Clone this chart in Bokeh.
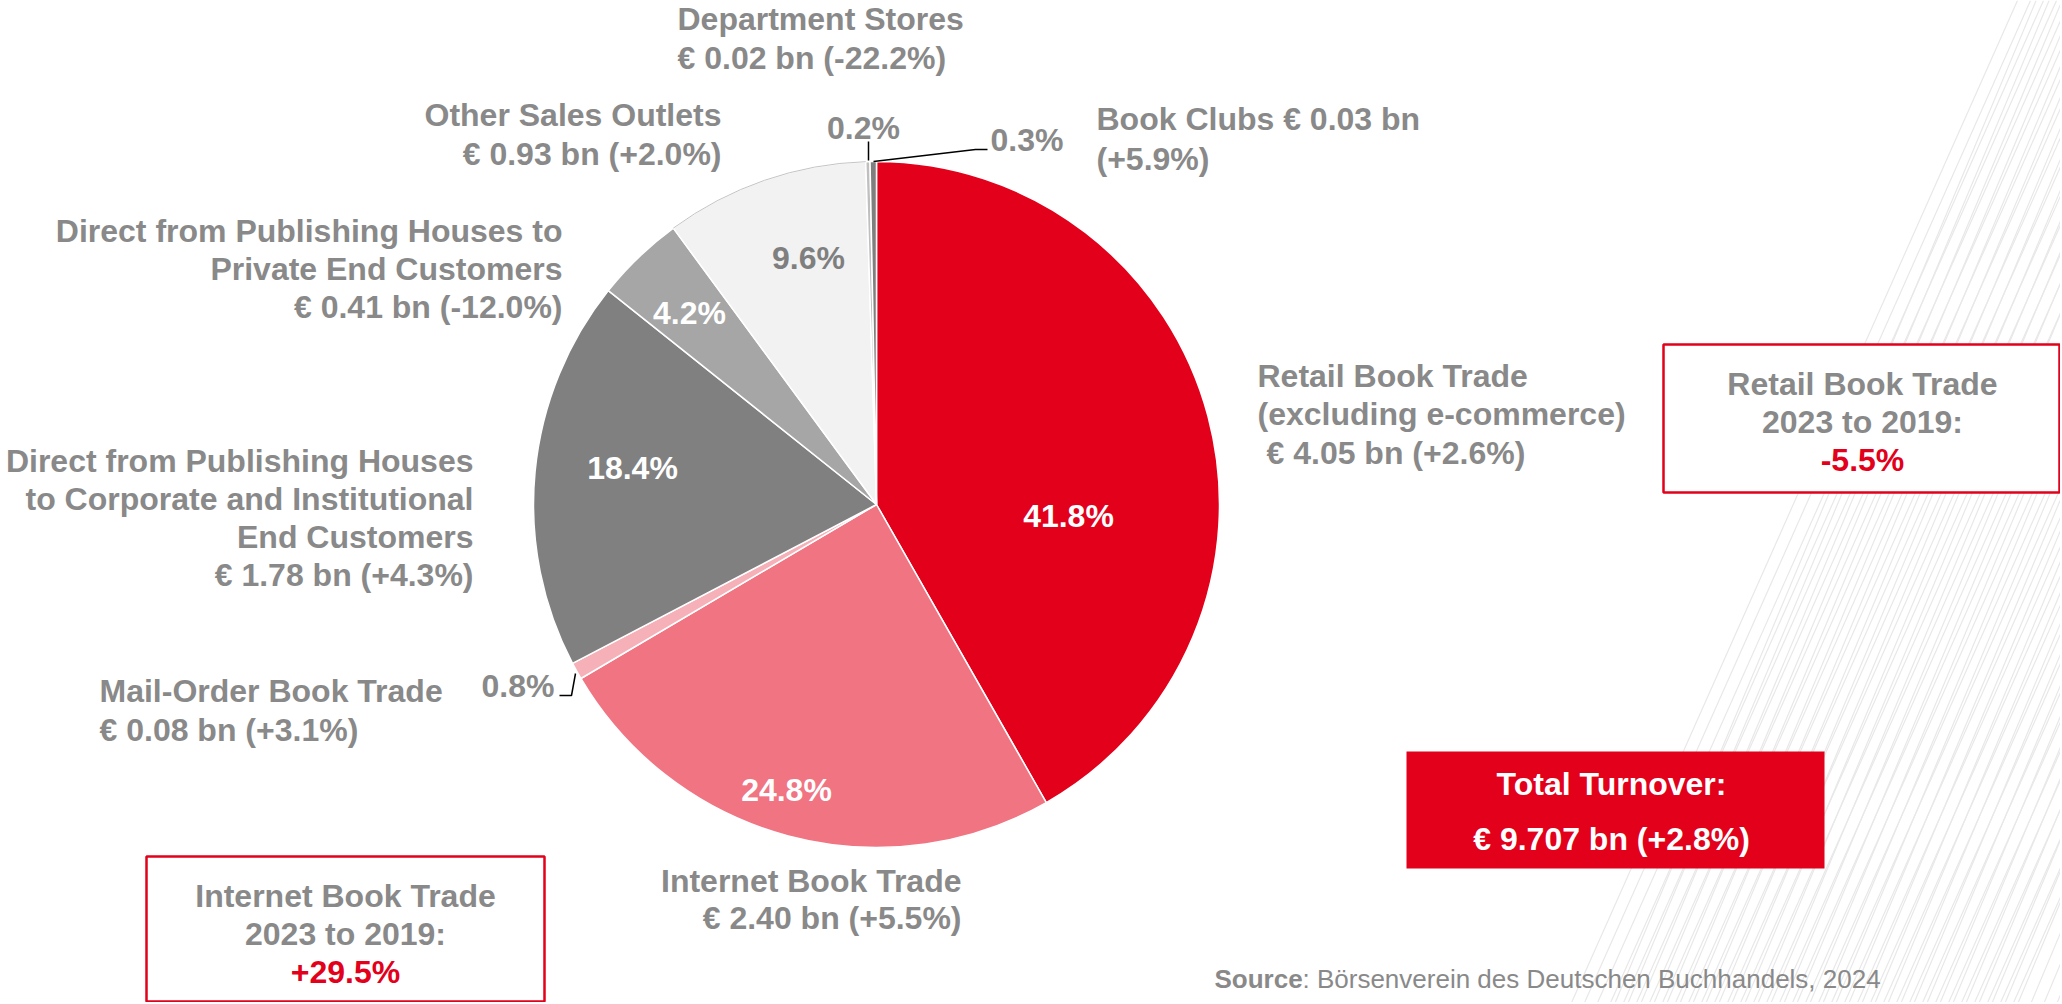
import math
from bokeh.plotting import figure
from bokeh.models import Range1d, ColumnDataSource
from bokeh.core.properties import value
from bokeh.embed import file_html
from bokeh.resources import INLINE

# ---------------- data ----------------
segments = ["Retail Book Trade (excluding e-commerce)", "Internet Book Trade", "Mail-Order Book Trade",
            "Direct from Publishing Houses to Corporate and Institutional End Customers",
            "Direct from Publishing Houses to Private End Customers", "Other Sales Outlets",
            "Department Stores", "Book Clubs"]
turnover_bn = [4.05, 2.40, 0.08, 1.78, 0.41, 0.93, 0.02, 0.03]
change_pct = [2.6, 5.5, 3.1, 4.3, -12.0, 2.0, -22.2, 5.9]
share_pct = [41.8, 24.8, 0.8, 18.4, 4.2, 9.6, 0.2, 0.3]
share_labels = ["41.8%", "24.8%", "0.8%", "18.4%", "4.2%", "9.6%", "0.2%", "0.3%"]
colors = ["#E2001A", "#F07482", "#F5B0B8", "#808080", "#A6A6A6", "#F2F2F2", "#BFBFBF", "#7F7F7F"]

total_turnover = "€ 9.707 bn (+2.8%)"
retail_2023_vs_2019 = "-5.5%"
internet_2023_vs_2019 = "+29.5%"
source_name = "Börsenverein des Deutschen Buchhandels, 2024"

# ---------------- layout ----------------
W, H = 2060, 1002
GRAY = "#898989"
RED = "#E2001A"
FONT = value("Liberation Sans")
FS = "32px"

p = figure(width=W, height=H, x_range=Range1d(0, W), y_range=Range1d(-H, 0),
           output_backend="svg", toolbar_location=None, x_axis_type=None, y_axis_type=None,
           min_border=0, background_fill_color="white", border_fill_color="white")
p.outline_line_color = None
p.grid.visible = False


def Y(v):
    return -v


# background diagonal stripes (decoration): two slightly different families
for (ya, slope) in [(680, 0.42), (600, 0.445)]:
    xa = list(range(1750, 2200, 13))
    x_bot = [x - (1010 - ya) * slope for x in xa]
    x_top = [x + ya * slope for x in xa]
    p.segment(x0=x_bot, y0=[Y(1010)] * len(xa), x1=x_top, y1=[Y(0)] * len(xa),
              line_color="#E8E8E8", line_width=1.2)

# pie
cx, cy, R = 876, Y(504), 343
tot = sum(share_pct)
starts, ends = [], []
cum = 0.0
for s in share_pct:
    a0 = math.pi / 2 - 2 * math.pi * cum / tot
    cum += s
    a1 = math.pi / 2 - 2 * math.pi * cum / tot
    starts.append(a1)
    ends.append(a0)
src = ColumnDataSource(dict(start=starts, end=ends, color=colors, name=segments,
                            bn=turnover_bn, chg=change_pct))
p.wedge(x=cx, y=cy, radius=R, start_angle="start", end_angle="end", fill_color="color",
        line_color="white", line_width=1.5, source=src)
# thin outline on the light "Other Sales Outlets" slice
p.arc(x=cx, y=cy, radius=R, start_angle=starts[5], end_angle=ends[5], line_color="#C4C4C4", line_width=1)


def txt(x, y, s, color=GRAY, size=FS, align="left", bold=True):
    p.text(x=[x], y=[Y(y)], text=[s], text_color=color, text_font=FONT, text_font_size=size,
           text_font_style="bold" if bold else "normal", text_align=align, text_baseline="middle")


def lines(x, ys, texts, align, color=GRAY):
    for yy, t in zip(ys, texts):
        txt(x, yy, t, color=color, align=align)


def fmt(bn, chg):
    return "€ %.2f bn (%+.1f%%)" % (bn, chg)


# outside labels
lines(1257, [375, 413], ["Retail Book Trade", "(excluding e-commerce)"], "left")
txt(1266, 452, fmt(turnover_bn[0], change_pct[0]))
lines(961, [880, 917], ["Internet Book Trade", fmt(turnover_bn[1], change_pct[1])], "right")
lines(99, [690, 729], ["Mail-Order Book Trade", fmt(turnover_bn[2], change_pct[2])], "left")
lines(473, [460, 498, 536, 574], ["Direct from Publishing Houses", "to Corporate and Institutional",
                                   "End Customers", fmt(turnover_bn[3], change_pct[3])], "right")
lines(562, [230, 268, 306], ["Direct from Publishing Houses to", "Private End Customers",
                             fmt(turnover_bn[4], change_pct[4])], "right")
lines(721, [114, 153], ["Other Sales Outlets", fmt(turnover_bn[5], change_pct[5])], "right")
lines(677, [18, 57], ["Department Stores", fmt(turnover_bn[6], change_pct[6])], "left")
lines(1096, [118, 158], ["Book Clubs € %.2f bn" % turnover_bn[7], "(%+.1f%%)" % change_pct[7]], "left")

# share labels
txt(1068, 515, share_labels[0], color="white", align="center")
txt(786, 789, share_labels[1], color="white", align="center")
txt(554, 685, share_labels[2], color=GRAY, align="right")
txt(632, 467, share_labels[3], color="white", align="center")
txt(689, 312, share_labels[4], color="white", align="center")
txt(808, 257, share_labels[5], color="#7F7F7F", align="center")
txt(863, 127, share_labels[6], color=GRAY, align="center")
txt(990, 139, share_labels[7], color=GRAY, align="left")

# leader lines
p.line(x=[868, 868], y=[Y(141), Y(160)], line_color="black", line_width=1.5)
p.line(x=[873, 975, 987], y=[Y(161), Y(149), Y(149)], line_color="black", line_width=1.5)
p.line(x=[559, 571, 575], y=[Y(695), Y(695), Y(673)], line_color="black", line_width=1.5)

# boxes
p.quad(left=[1663], right=[2059], top=[Y(344)], bottom=[Y(492)], fill_color="white",
       line_color=RED, line_width=2.5)
lines(1862, [383, 421], ["Retail Book Trade", "2023 to 2019:"], "center")
txt(1862, 459, retail_2023_vs_2019, color=RED, align="center")

p.quad(left=[146], right=[544], top=[Y(856)], bottom=[Y(1001)], fill_color="white",
       line_color=RED, line_width=2.5)
lines(345, [895, 933], ["Internet Book Trade", "2023 to 2019:"], "center")
txt(345, 971, internet_2023_vs_2019, color=RED, align="center")

p.quad(left=[1406], right=[1824], top=[Y(751)], bottom=[Y(868)], fill_color=RED, line_color=None)
txt(1611, 783, "Total Turnover:", color="white", align="center")
txt(1611, 838, total_turnover, color="white", align="center")

# source
txt(1214, 978, "Source", color=GRAY, size="26px")
txt(1302, 978, ": " + source_name, color=GRAY, size="26px", bold=False)

open("out.html", "w").write(file_html(p, INLINE))
